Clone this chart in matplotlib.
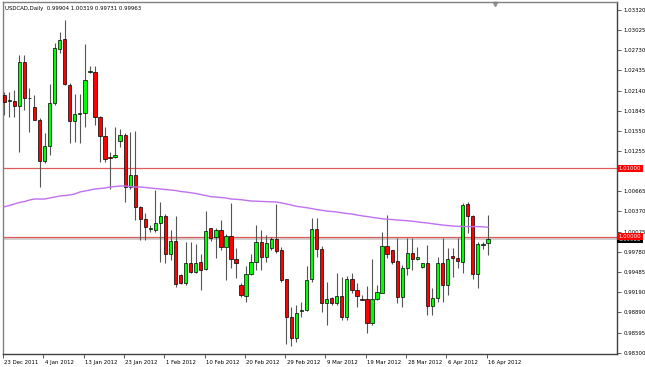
import matplotlib.pyplot as plt
import matplotlib.transforms as mtransforms
import numpy as np

# USDCAD daily candles (O, H, L, C), 23 Dec 2011 .. 16 Apr 2012
opens = [1.02075, 1.01987, 1.01987, 1.01913, 1.02558, 1.02031, 1.01899, 1.01708, 1.01108, 1.01327,
         1.01957, 1.02748, 1.02895, 1.02221, 1.01694, 1.01803, 1.01811, 1.02416, 1.02411, 1.01752,
         1.01474, 1.01166, 1.01166, 1.01401, 1.01489, 1.00727, 1.00903, 1.00434, 1.00258, 1.00112,
         1.00097, 1.00204, 1.00302, 0.99745, 0.99936, 0.99438, 0.99325, 0.99614, 0.99486, 0.99624,
         0.99521, 1.00122, 0.99999, 1.00097, 0.99852, 1.00014, 0.99668, 0.99291, 0.99135, 0.99448,
         0.99624, 0.99917, 0.99697, 0.99829, 0.99961, 0.99804, 0.99375, 0.98827, 0.98511, 0.98910,
         0.98925, 0.99375, 1.00107, 0.99814, 0.99023, 0.99105, 0.99023, 0.99130, 0.98827, 0.99375,
         0.99218, 0.99082, 0.99082, 0.98739, 0.99082, 0.99179, 0.99863, 0.99804, 0.99643, 0.99120,
         0.99545, 0.99756, 0.99668, 0.99551, 0.99609, 0.98988, 0.99097, 0.99618, 0.99291, 0.99716,
         0.99691, 0.99633, 1.00473, 1.00307, 0.99448, 0.99873, 0.99904]
highs = [1.02119, 1.02119, 1.02148, 1.02660, 1.02660, 1.02177, 1.02075, 1.01738, 1.01518, 1.02236,
         1.02836, 1.02997, 1.03173, 1.02250, 1.02089, 1.02089, 1.02822, 1.02499, 1.02499, 1.01767,
         1.01606, 1.01240, 1.01606, 1.01576, 1.01518, 1.01532, 1.01547, 1.00449, 1.00346, 1.00170,
         1.00683, 1.00512, 1.00331, 1.00097, 1.00302, 0.99453, 0.99926, 0.99926, 0.99892, 0.99745,
         1.00375, 1.00131, 1.00126, 1.00243, 1.00034, 1.00488, 0.99829, 0.99316, 0.99570, 0.99741,
         1.00170, 1.00097, 1.00024, 0.99999, 1.00473, 0.99843, 0.99379, 0.98974, 0.98998, 0.99047,
         0.99570, 1.00268, 1.00268, 0.99863, 0.99340, 0.99120, 0.99463, 0.99413, 0.99423, 0.99463,
         0.99316, 0.99145, 0.99277, 0.99668, 0.99291, 1.00072, 1.00317, 0.99804, 0.99975, 0.99584,
         0.99984, 0.99984, 0.99843, 0.99618, 0.99877, 0.99243, 0.99706, 0.99975, 0.99838, 0.99829,
         0.99984, 1.00488, 1.00503, 1.00317, 0.99926, 0.99926, 1.00319]
lows = [1.01782, 1.01752, 1.01752, 1.01240, 1.01855, 1.01533, 1.01705, 1.00727, 1.01078, 1.01196,
        1.01928, 1.02690, 1.02221, 1.01371, 1.01386, 1.01371, 1.01606, 1.02397, 1.01635, 1.01093,
        1.01093, 1.00698, 1.01152, 1.01313, 1.00507, 1.00698, 1.00243, 0.99950, 0.99950, 1.00068,
        1.00068, 0.99633, 0.99618, 0.99658, 0.99266, 0.99306, 0.99291, 0.99471, 0.99471, 0.99218,
        0.99511, 0.99936, 0.99691, 0.99804, 0.99365, 0.99536, 0.99389, 0.99120, 0.99047, 0.99438,
        0.99511, 0.99511, 0.99633, 0.99804, 0.99755, 0.99340, 0.98427, 0.98398, 0.98461, 0.98827,
        0.98910, 0.99340, 0.99706, 0.98900, 0.98705, 0.98998, 0.98998, 0.98779, 0.98779, 0.99170,
        0.98974, 0.99071, 0.98584, 0.98705, 0.99071, 0.99170, 0.99682, 0.99599, 0.99023, 0.98974,
        0.99438, 0.99511, 0.99658, 0.99536, 0.98851, 0.98851, 0.99047, 0.99047, 0.99145, 0.99413,
        0.99545, 0.99471, 1.00058, 0.99375, 0.99243, 0.99814, 0.99731]
closes = [1.01977, 1.02001, 1.01913, 1.02558, 1.02031, 1.02025, 1.01708, 1.01108, 1.01327, 1.01957,
          1.02763, 1.02880, 1.02236, 1.01694, 1.01796, 1.01811, 1.02294, 1.02422, 1.01752, 1.01474,
          1.01137, 1.01152, 1.01196, 1.01489, 1.00727, 1.00903, 1.00434, 1.00258, 1.00141, 1.00126,
          1.00204, 1.00302, 0.99745, 0.99936, 0.99306, 0.99325, 0.99614, 0.99486, 0.99618, 0.99511,
          1.00087, 0.99975, 1.00097, 0.99852, 1.00009, 0.99668, 0.99609, 0.99145, 0.99453, 0.99624,
          0.99917, 0.99697, 0.99902, 0.99961, 0.99794, 0.99365, 0.98827, 0.98511, 0.98877, 0.98925,
          0.99365, 1.00107, 0.99814, 0.99023, 0.99082, 0.99023, 0.99130, 0.98827, 0.99375, 0.99218,
          0.99130, 0.99076, 0.98739, 0.99082, 0.99189, 0.99863, 0.99741, 0.99633, 0.99120, 0.99545,
          0.99756, 0.99668, 0.99697, 0.99609, 0.98988, 0.99097, 0.99618, 0.99291, 0.99672, 0.99682,
          0.99647, 1.00463, 1.00307, 0.99448, 0.99892, 0.99897, 0.99963]
ma = [1.00438, 1.00456, 1.00478, 1.00500, 1.00514, 1.00536, 1.00551, 1.00551, 1.00551, 1.00566,
      1.00580, 1.00595, 1.00602, 1.00610, 1.00624, 1.00654, 1.00668, 1.00683, 1.00698, 1.00705,
      1.00712, 1.00727, 1.00734, 1.00742, 1.00742, 1.00734, 1.00727, 1.00727, 1.00720, 1.00712,
      1.00705, 1.00698, 1.00690, 1.00683, 1.00676, 1.00661, 1.00654, 1.00643, 1.00632, 1.00617,
      1.00602, 1.00585, 1.00580, 1.00573, 1.00566, 1.00551, 1.00547, 1.00541, 1.00532, 1.00522,
      1.00519, 1.00516, 1.00513, 1.00510, 1.00507, 1.00495, 1.00478, 1.00463, 1.00444, 1.00434,
      1.00424, 1.00412, 1.00397, 1.00386, 1.00375, 1.00368, 1.00361, 1.00349, 1.00339, 1.00331,
      1.00317, 1.00305, 1.00295, 1.00283, 1.00273, 1.00262, 1.00255, 1.00251, 1.00243, 1.00239,
      1.00233, 1.00226, 1.00217, 1.00207, 1.00200, 1.00189, 1.00180, 1.00170, 1.00163, 1.00156,
      1.00151, 1.00148, 1.00147, 1.00147, 1.00147, 1.00145, 1.00137]

date_labels = ['23 Dec 2011', '4 Jan 2012', '13 Jan 2012', '23 Jan 2012', '1 Feb 2012',
               '10 Feb 2012', '20 Feb 2012', '29 Feb 2012', '9 Mar 2012', '19 Mar 2012',
               '28 Mar 2012', '6 Apr 2012', '16 Apr 2012']
price_labels = ['1.03320', '1.03025', '1.02730', '1.02435', '1.02140', '1.01845', '1.01550',
                '1.01255', '1.00665', '1.00370', '1.00075', '0.99780', '0.99485', '0.99190',
                '0.98890', '0.98595', '0.98300']
levels = [1.01000, 1.00000]
bid = 0.99963
title = 'USDCAD,Daily  0.99904 1.00319 0.99731 0.99963'

plt.rcParams['font.family'] = ['DejaVu Sans']
fs = 3.9

fig = plt.figure(figsize=(6.45, 3.67), dpi=100)
fig.patch.set_facecolor('white')
ax = fig.add_axes([3/645, 13/367, 614/645, 352/367])

o = np.array(opens); h = np.array(highs); l = np.array(lows); c = np.array(closes)
x = np.arange(len(o))
up = c >= o

ax.vlines(x, l, h, color='#555555', lw=0.8, zorder=2)
body_lo = np.minimum(o, c)
body_h = np.maximum(np.abs(c - o), 0.00003)
ax.bar(x[up], body_h[up], bottom=body_lo[up], width=0.66, color='#00ff00',
       edgecolor='#000000', lw=0.5, zorder=3)
ax.bar(x[~up], body_h[~up], bottom=body_lo[~up], width=0.66, color='#ff0000',
       edgecolor='#000000', lw=0.5, zorder=3)

ax.plot(x, ma, color='#c070f0', lw=1.0, zorder=4)

for lv in levels:
    ax.axhline(lv, color='#e05a5a', lw=0.9, zorder=1)
ax.axhline(bid, color='#c8c8c8', lw=1.2, zorder=0.5)

ax.set_xlim(-0.2, 121.63)
ax.set_ylim(0.98281, 1.03437)

ax.yaxis.tick_right()
ax.set_yticks([float(s) for s in price_labels])
ax.set_yticklabels(price_labels)
ax.tick_params(axis='y', direction='out', length=3, width=0.6, color='#404040',
               labelsize=fs, pad=1.5, labelcolor='black')

ax.set_xticks([8 * i - 0.25 for i in range(len(date_labels))])
ax.set_xticklabels(date_labels)
ax.tick_params(axis='x', direction='out', length=3, width=0.6, color='#404040',
               labelsize=fs, pad=1.5, labelcolor='black')
shift = mtransforms.ScaledTranslation(1.5/100, 0, fig.dpi_scale_trans)
for lbl in ax.get_xticklabels():
    lbl.set_ha('left')
    lbl.set_transform(lbl.get_transform() + shift)

for sp in ax.spines.values():
    sp.set_color('#808080')
    sp.set_linewidth(1.0)
ax.spines['bottom'].set_color('#404040')
ax.spines['right'].set_color('#404040')

# price boxes on the scale (bid box mostly hidden under the 1.00000 box)
yt = mtransforms.blended_transform_factory(ax.transAxes, ax.transData)
ax.text(1.003, bid, '%.5f' % bid, transform=yt, ha='left', va='center', fontsize=fs,
        color='white', clip_on=False, zorder=5,
        bbox=dict(boxstyle='square,pad=0.25', fc='black', ec='none'))
for lv in levels:
    ax.text(1.003, lv, '%.5f' % lv, transform=yt, ha='left', va='center', fontsize=fs,
            color='white', clip_on=False, zorder=6,
            bbox=dict(boxstyle='square,pad=0.25', fc='#ff0000', ec='none'))

ax.text(0.004, 0.99, title, transform=ax.transAxes, ha='left', va='top', fontsize=fs,
        color='black')
ax.plot([0.8005], [0.994], marker='v', ms=3, color='#909090', transform=ax.transAxes,
        clip_on=False)

fig.savefig('out.png', dpi=100)
